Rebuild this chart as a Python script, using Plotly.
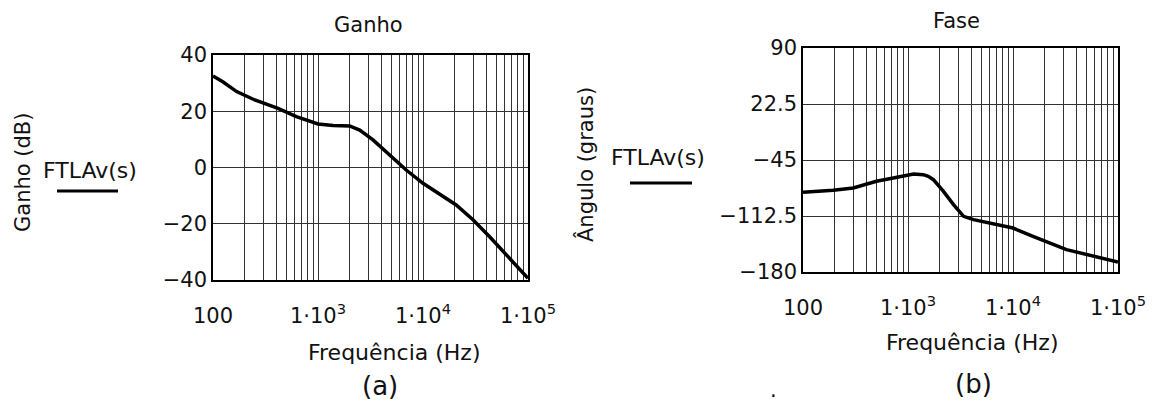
import plotly.graph_objects as go

# Ganho (dB) vs frequency
gain_freq = [100, 124, 168, 250, 416, 622, 1000, 1390, 2000, 2495, 3340, 5180, 6920, 10000, 20700, 29900, 43100, 100000]
gain_db = [32.5, 30.5, 27.0, 24.0, 21.0, 18.1, 15.5, 14.9, 14.8, 13.3, 9.8, 3.3, -0.9, -5.6, -13.3, -18.6, -24.6, -39.4]

# Fase (graus) vs frequency
phase_freq = [100, 194, 301, 501, 724, 1000, 1130, 1400, 1560, 1745, 2176, 2713, 3383, 4210, 10000, 15500, 32300, 100000]
phase_deg = [-84, -81.5, -78.7, -70.7, -66.7, -62.7, -61.9, -62.7, -64.7, -68.7, -82.8, -98.8, -112.9, -116.9, -127, -137, -153, -168]

# log axis ticks: labelled decades, plus a minor grid line at every 2..9 multiple
freq_ticks = [100, 1000, 10000, 100000]
freq_ticktext = ["100", "1·10<sup>3</sup>", "1·10<sup>4</sup>", "1·10<sup>5</sup>"]
freq_minor = [m * 10 ** e for e in range(2, 5) for m in range(2, 10)]

gain_ticks = [-40, -20, 0, 20, 40]
gain_ticktext = ["−40", "−20", "0", "20", "40"]
phase_ticks = [-180, -112.5, -45, 22.5, 90]
phase_ticktext = ["−180", "−112.5", "−45", "22.5", "90"]

W, H = 1154, 403
OFF = 8  # page body margin
FONT = "DejaVu Sans"
GRID = "#333333"


def px(x):
    return (x - OFF) / W


def py(y):
    return 1 - (y - OFF) / H


fig = go.Figure()
fig.add_trace(go.Scatter(x=gain_freq, y=gain_db, mode="lines", xaxis="x", yaxis="y",
                         line=dict(color="black", width=3.5), showlegend=False))
fig.add_trace(go.Scatter(x=phase_freq, y=phase_deg, mode="lines", xaxis="x2", yaxis="y2",
                         line=dict(color="black", width=3.5), showlegend=False))

xcommon = dict(type="log", range=[2, 5], tickmode="array", tickvals=freq_ticks, ticktext=freq_ticktext,
               showgrid=True, gridcolor=GRID, gridwidth=1,
               minor=dict(tickmode="array", tickvals=freq_minor, showgrid=True, gridcolor=GRID, gridwidth=1, ticks=""),
               showline=True, linecolor="black", linewidth=1.5, mirror=True,
               ticks="", ticklabelstandoff=16, zeroline=False, tickangle=0, automargin=False)
ycommon = dict(showgrid=True, gridcolor=GRID, gridwidth=1, showline=True, linecolor="black", linewidth=1.5,
               mirror=True, ticks="", zeroline=False, ticklabelstandoff=0, automargin=False)

fig.update_layout(
    width=W, height=H,
    margin=dict(l=0, r=0, t=0, b=0),
    paper_bgcolor="white", plot_bgcolor="white",
    font=dict(family=FONT, size=21, color="#111111"),
    xaxis=dict(domain=[px(213), px(528)], anchor="y", **xcommon),
    yaxis=dict(domain=[py(280), py(55)], anchor="x", range=[-40, 40], tickvals=gain_ticks,
               ticktext=gain_ticktext, **ycommon),
    xaxis2=dict(domain=[px(803), px(1118)], anchor="y2", **xcommon),
    yaxis2=dict(domain=[py(272), py(48)], anchor="x2", range=[-180, 90], tickvals=phase_ticks,
                ticktext=phase_ticktext, **ycommon),
)

notes = [
    ("Ganho", 368, 25, 0, 21),
    ("Fase", 957, 21, 0, 21),
    ("Frequência (Hz)", 394, 352, 0, 22),
    ("Frequência (Hz)", 972, 342, 0, 22),
    ("(a)", 380, 386, 0, 26),
    ("(b)", 973, 384, 0, 26),
    ("Ganho (dB)", 23, 173, -90, 21),
    ("Ângulo (graus)", 585, 165, -90, 21),
    ("FTLAv(s)", 90, 170, 0, 22),
    ("FTLAv(s)", 658, 158, 0, 22),
    (".", 773, 390, 0, 21),
]
for text, x, y, ang, size in notes:
    fig.add_annotation(text=text, x=px(x), y=py(y), xref="paper", yref="paper", showarrow=False,
                       xanchor="center", yanchor="middle", textangle=ang, font=dict(size=size))

# legend sample lines under the FTLAv(s) labels
for x0, x1, y in [(57, 118, 191), (630, 692, 183)]:
    fig.add_shape(type="line", xref="paper", yref="paper", x0=px(x0), x1=px(x1), y0=py(y), y1=py(y),
                  line=dict(color="black", width=3))

fig.write_html("out.html")
